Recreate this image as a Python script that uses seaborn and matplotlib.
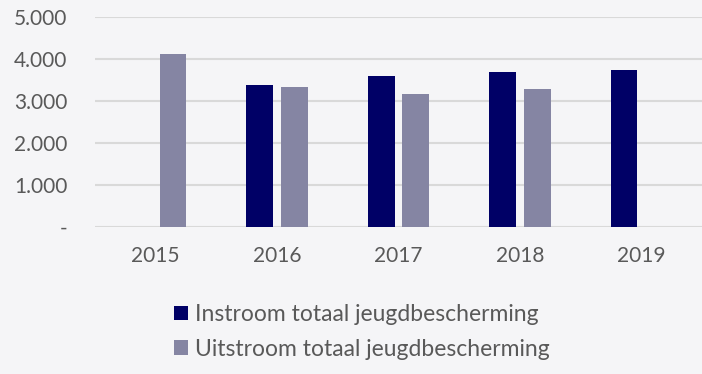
import numpy as np
import pandas as pd
import matplotlib
matplotlib.use("Agg")
import matplotlib.pyplot as plt
from matplotlib.patches import Patch
import seaborn as sns

years = ["2015", "2016", "2017", "2018", "2019"]
instroom = [np.nan, 3367, 3588, 3683, 3731]
uitstroom = [4105, 3333, 3152, 3271, np.nan]
series = ["Instroom totaal jeugdbescherming", "Uitstroom totaal jeugdbescherming"]
yticks = [0, 1000, 2000, 3000, 4000, 5000]
ytick_labels = ["-", "1.000", "2.000", "3.000", "4.000", "5.000"]

colors = ["#000066", "#8585a3"]
bg = "#f5f5f7"
text_color = "#595959"

df = pd.DataFrame({
    "jaar": years * 2,
    "reeks": [series[0]] * len(years) + [series[1]] * len(years),
    "aantal": instroom + uitstroom,
})

sns.set_theme(style="white")
plt.rcParams["font.family"] = ["Lato", "DejaVu Sans"]

fig = plt.figure(figsize=(7.02, 3.74), dpi=100, facecolor=bg)
ax = fig.add_axes([95 / 702, 1 - 226.7 / 374, 607 / 702, 210 / 374])
ax.set_facecolor(bg)

sns.barplot(data=df, x="jaar", y="aantal", hue="reeks", order=years,
            hue_order=series, palette=colors, width=0.57, gap=0.22,
            dodge=True, ax=ax, legend=False, saturation=1,
            edgecolor="none")

ax.set_ylim(0, 5000)
ax.set_xlim(-0.5, len(years) - 0.5)
ax.set_yticks(yticks)
ax.set_yticklabels(ytick_labels)
ax.yaxis.grid(True, color="#d9d9d9", linewidth=1.5)
ax.set_axisbelow(True)
for s in ax.spines.values():
    s.set_visible(False)
ax.set_xlabel("")
ax.set_ylabel("")
ax.tick_params(axis="both", length=0, labelsize=15, labelcolor=text_color)
ax.tick_params(axis="y", pad=20)
ax.tick_params(axis="x", pad=14)

handles = [Patch(facecolor=c, edgecolor="none") for c in colors]
leg = fig.legend(handles, series, loc="center", bbox_to_anchor=(362 / 702, 1 - 332 / 374),
                 ncol=1, frameon=False, fontsize=16.5, labelcolor=text_color,
                 handlelength=0.62, handleheight=0.62, handletextpad=0.3,
                 labelspacing=0.6)

fig.savefig("out.png", dpi=100, facecolor=bg)
